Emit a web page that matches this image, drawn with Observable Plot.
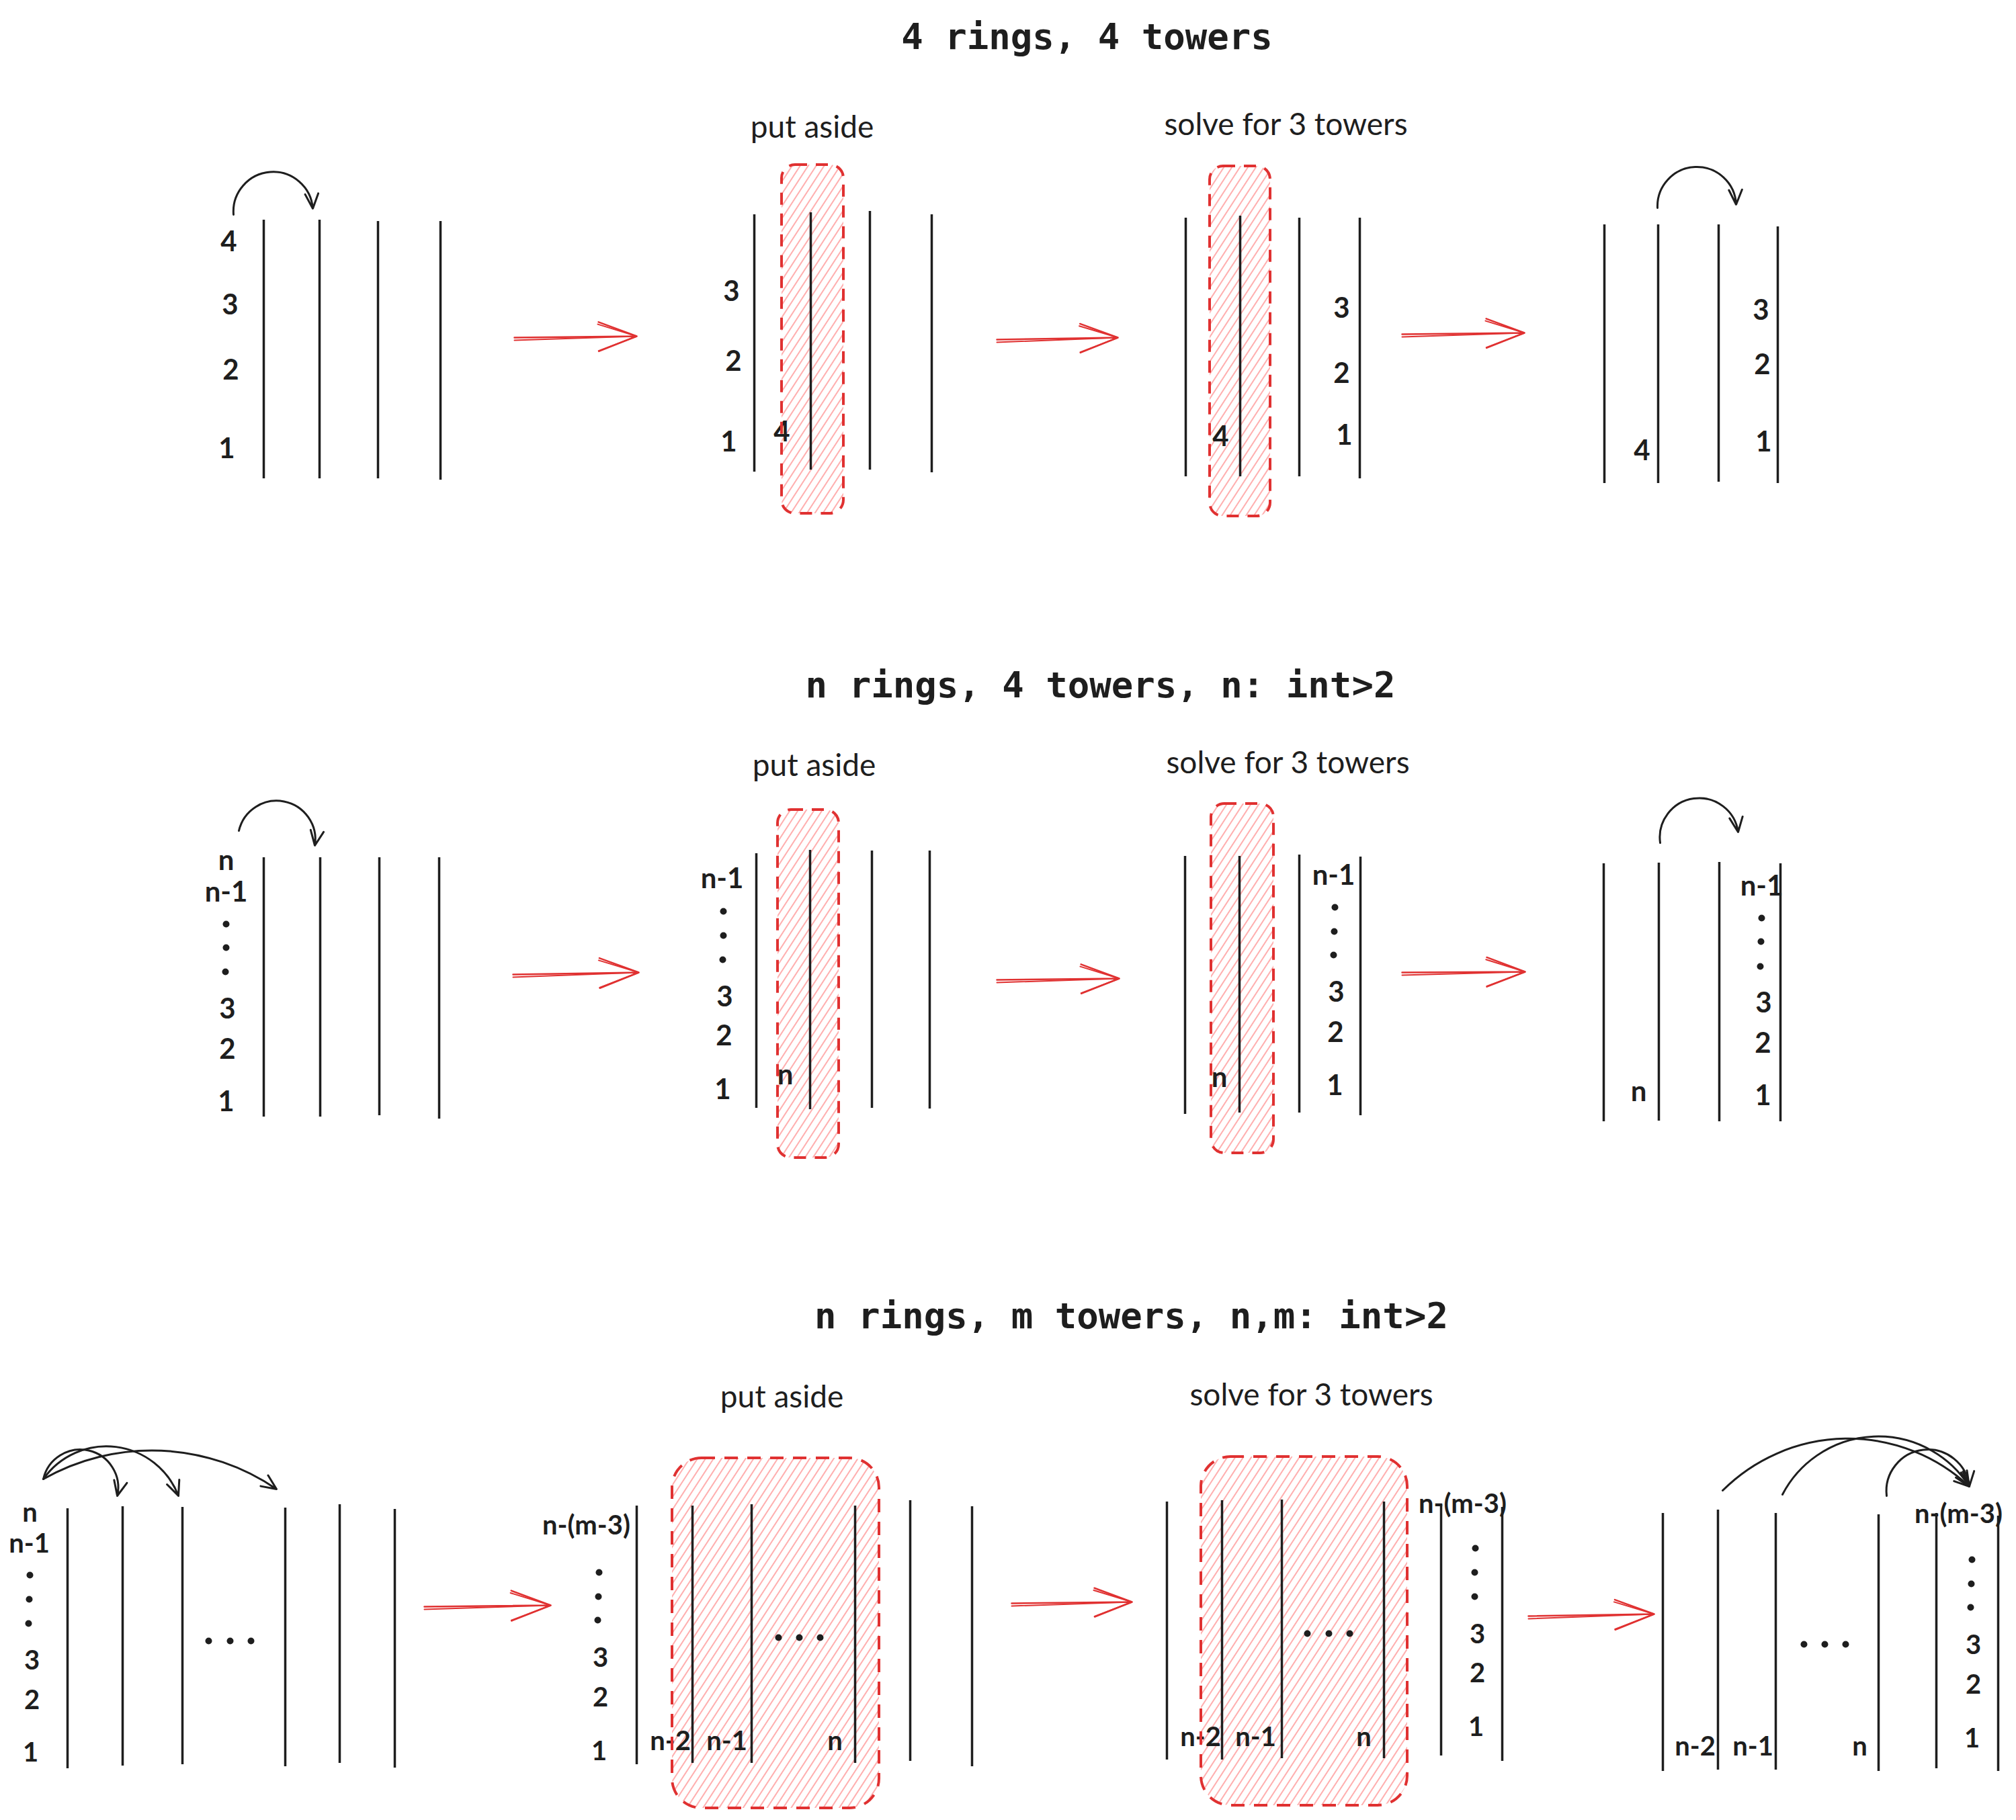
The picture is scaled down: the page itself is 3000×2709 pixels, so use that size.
<!DOCTYPE html>
<html>
<head>
<meta charset="utf-8">
<script src="https://cdn.jsdelivr.net/npm/d3@7"></script>
<script src="https://cdn.jsdelivr.net/npm/@observablehq/plot@0.6"></script>
<style>
  html, body { margin: 0; padding: 0; background: #ffffff; }
  #chart svg { display: block; }
</style>
</head>
<body>
<div id="chart"></div>
<script>
// ---------- data (diagram units) ----------
const titles = [
  {text: "4 rings, 4 towers", x: 1617, y: 55},
  {text: "n rings, 4 towers, n: int>2", x: 1637, y: 1020},
  {text: "n rings, m towers, n,m: int>2", x: 1683, y: 1959}
];

const captions = [
  {text: "put aside", x: 1208, y: 190},
  {text: "solve for 3 towers", x: 1913, y: 186},
  {text: "put aside", x: 1211, y: 1140},
  {text: "solve for 3 towers", x: 1916, y: 1136},
  {text: "put aside", x: 1163, y: 2080},
  {text: "solve for 3 towers", x: 1951, y: 2077}
];

const towers = [
  // row 1
  {x: 392, top: 327, bottom: 712}, {x: 475, top: 327, bottom: 712}, {x: 562, top: 329, bottom: 712}, {x: 655, top: 329, bottom: 714},
  {x: 1122, top: 319, bottom: 702}, {x: 1206, top: 316, bottom: 699}, {x: 1294, top: 314, bottom: 699}, {x: 1386, top: 319, bottom: 703},
  {x: 1764, top: 324, bottom: 709}, {x: 1845, top: 321, bottom: 709}, {x: 1933, top: 324, bottom: 709}, {x: 2023, top: 324, bottom: 712},
  {x: 2387, top: 334, bottom: 719}, {x: 2467, top: 334, bottom: 719}, {x: 2557, top: 334, bottom: 717}, {x: 2645, top: 337, bottom: 719},
  // row 2
  {x: 392, top: 1276, bottom: 1662}, {x: 476, top: 1276, bottom: 1662}, {x: 564, top: 1276, bottom: 1660}, {x: 653, top: 1276, bottom: 1665},
  {x: 1125, top: 1270, bottom: 1649}, {x: 1205, top: 1265, bottom: 1651}, {x: 1297, top: 1266, bottom: 1649}, {x: 1383, top: 1266, bottom: 1650},
  {x: 1763, top: 1274, bottom: 1658}, {x: 1844, top: 1274, bottom: 1656}, {x: 1933, top: 1272, bottom: 1656}, {x: 2024, top: 1275, bottom: 1660},
  {x: 2386, top: 1285, bottom: 1669}, {x: 2468, top: 1284, bottom: 1668}, {x: 2558, top: 1283, bottom: 1669}, {x: 2649, top: 1285, bottom: 1669},
  // row 3
  {x: 100, top: 2245, bottom: 2632}, {x: 182, top: 2242, bottom: 2628}, {x: 271, top: 2243, bottom: 2626},
  {x: 424, top: 2244, bottom: 2629}, {x: 505, top: 2239, bottom: 2624}, {x: 587, top: 2246, bottom: 2631},
  {x: 947, top: 2241, bottom: 2626}, {x: 1030, top: 2241, bottom: 2624}, {x: 1118, top: 2239, bottom: 2624},
  {x: 1272, top: 2241, bottom: 2624}, {x: 1354, top: 2233, bottom: 2621}, {x: 1446, top: 2242, bottom: 2629},
  {x: 1736, top: 2235, bottom: 2619}, {x: 1818, top: 2233, bottom: 2619}, {x: 1907, top: 2232, bottom: 2617},
  {x: 2059, top: 2235, bottom: 2617}, {x: 2144, top: 2239, bottom: 2613}, {x: 2235, top: 2243, bottom: 2621},
  {x: 2474, top: 2252, bottom: 2636}, {x: 2556, top: 2247, bottom: 2634}, {x: 2642, top: 2252, bottom: 2634},
  {x: 2795, top: 2254, bottom: 2636}, {x: 2881, top: 2252, bottom: 2632}, {x: 2973, top: 2256, bottom: 2636}
];

// ring labels, rows 1 and 2
const ringLabels = [
  {text: "4", x: 340, y: 360}, {text: "3", x: 342, y: 454}, {text: "2", x: 343, y: 551}, {text: "1", x: 337, y: 668},
  {text: "3", x: 1088, y: 434}, {text: "2", x: 1091, y: 538}, {text: "1", x: 1084, y: 658}, {text: "4", x: 1163, y: 643},
  {text: "3", x: 1996, y: 459}, {text: "2", x: 1996, y: 556}, {text: "1", x: 2000, y: 648}, {text: "4", x: 1816, y: 650},
  {text: "3", x: 2620, y: 462}, {text: "2", x: 2622, y: 543}, {text: "1", x: 2624, y: 658}, {text: "4", x: 2443, y: 671},
  {text: "n", x: 336, y: 1281}, {text: "n-1", x: 336, y: 1328}, {text: "3", x: 338, y: 1502}, {text: "2", x: 338, y: 1562}, {text: "1", x: 336, y: 1640},
  {text: "n-1", x: 1074, y: 1308}, {text: "3", x: 1078, y: 1484}, {text: "2", x: 1077, y: 1542}, {text: "1", x: 1075, y: 1622}, {text: "n", x: 1168, y: 1600},
  {text: "n-1", x: 1984, y: 1303}, {text: "3", x: 1988, y: 1477}, {text: "2", x: 1987, y: 1537}, {text: "1", x: 1986, y: 1616}, {text: "n", x: 1814, y: 1604},
  {text: "n-1", x: 2621, y: 1319}, {text: "3", x: 2624, y: 1493}, {text: "2", x: 2623, y: 1553}, {text: "1", x: 2623, y: 1631}, {text: "n", x: 2438, y: 1625}
];

// ring labels, row 3
const ringLabelsM = [
  {text: "n", x: 44, y: 2252}, {text: "n-1", x: 43, y: 2298}, {text: "3", x: 47, y: 2472}, {text: "2", x: 47, y: 2531}, {text: "1", x: 45, y: 2609},
  {text: "n-(m-3)", x: 872, y: 2271}, {text: "3", x: 893, y: 2468}, {text: "2", x: 893, y: 2527}, {text: "1", x: 891, y: 2607},
  {text: "n-2", x: 997, y: 2592}, {text: "n-1", x: 1081, y: 2592}, {text: "n", x: 1242, y: 2592},
  {text: "n-(m-3)", x: 2176, y: 2239}, {text: "3", x: 2198, y: 2433}, {text: "2", x: 2198, y: 2491}, {text: "1", x: 2196, y: 2571},
  {text: "n-2", x: 1786, y: 2586}, {text: "n-1", x: 1868, y: 2586}, {text: "n", x: 2029, y: 2586},
  {text: "n-(m-3)", x: 2914, y: 2254}, {text: "3", x: 2936, y: 2449}, {text: "2", x: 2936, y: 2508}, {text: "1", x: 2934, y: 2588},
  {text: "n-2", x: 2522, y: 2600}, {text: "n-1", x: 2608, y: 2600}, {text: "n", x: 2767, y: 2600}
];

const dots = [
  // vertical ellipses in ring stacks
  {x: 336, y: 1375}, {x: 336, y: 1410}, {x: 335, y: 1446},
  {x: 1076, y: 1356}, {x: 1076, y: 1392}, {x: 1075, y: 1428},
  {x: 1986, y: 1350}, {x: 1985, y: 1386}, {x: 1984, y: 1421},
  {x: 2621, y: 1366}, {x: 2620, y: 1401}, {x: 2619, y: 1438},
  {x: 44, y: 2344}, {x: 43, y: 2380}, {x: 42, y: 2416},
  {x: 891, y: 2340}, {x: 890, y: 2376}, {x: 889, y: 2411},
  {x: 2195, y: 2304}, {x: 2194, y: 2340}, {x: 2194, y: 2376},
  {x: 2934, y: 2321}, {x: 2933, y: 2357}, {x: 2932, y: 2392},
  // horizontal ellipses between towers
  {x: 310, y: 2442}, {x: 342, y: 2442}, {x: 373, y: 2442},
  {x: 1158, y: 2437}, {x: 1189, y: 2437}, {x: 1220, y: 2437},
  {x: 1945, y: 2431}, {x: 1977, y: 2431}, {x: 2008, y: 2431},
  {x: 2684, y: 2447}, {x: 2715, y: 2447}, {x: 2746, y: 2447}
];

const narrowBoxes = [
  {x1: 1163, x2: 1255, y1: 245, y2: 764},
  {x1: 1800, x2: 1890, y1: 247, y2: 768},
  {x1: 1157, x2: 1248, y1: 1205, y2: 1723},
  {x1: 1802, x2: 1895, y1: 1196, y2: 1716}
];
const wideBoxes = [
  {x1: 1000, x2: 1308, y1: 2170, y2: 2691},
  {x1: 1787, x2: 2094, y1: 2168, y2: 2687}
];

const stepArrows = [
  {x1: 765, y1: 502, x2: 947, y2: 500},
  {x1: 1483, y1: 505, x2: 1663, y2: 502},
  {x1: 2086, y1: 497, x2: 2268, y2: 495},
  {x1: 763, y1: 1450, x2: 950, y2: 1447},
  {x1: 1483, y1: 1458, x2: 1665, y2: 1456},
  {x1: 2086, y1: 1447, x2: 2269, y2: 1446},
  {x1: 631, y1: 2391, x2: 819, y2: 2389},
  {x1: 1505, y1: 2386, x2: 1684, y2: 2384},
  {x1: 2274, y1: 2405, x2: 2461, y2: 2402}
];

// ring moves (curved arrows); bend = arc angle in degrees
const moves = [
  {x1: 347, y1: 319, x2: 465, y2: 310, bend: 90},
  {x1: 2466, y1: 309, x2: 2583, y2: 304, bend: 90},
  {x1: 355, y1: 1236, x2: 468, y2: 1258, bend: 88},
  {x1: 2470, y1: 1254, x2: 2586, y2: 1238, bend: 90},
  {x1: 64, y1: 2201, x2: 174, y2: 2226, bend: 90},
  {x1: 64, y1: 2201, x2: 265, y2: 2226, bend: 62},
  {x1: 64, y1: 2201, x2: 411, y2: 2216, bend: 32},
  {x1: 2563, y1: 2218, x2: 2930, y2: 2212, bend: 44},
  {x1: 2652, y1: 2224, x2: 2930, y2: 2212, bend: 60},
  {x1: 2807, y1: 2226, x2: 2930, y2: 2212, bend: 90}
];

// ---------- drawing ----------
const ink = "#1e1e1e";
const red = "#e03131";
const handFont = "Lato, 'Open Sans', sans-serif";

const moveMarks = Array.from(new Set(moves.map(d => d.bend))).map(b =>
  Plot.arrow(moves.filter(d => d.bend === b), {
    x1: "x1", y1: "y1", x2: "x2", y2: "y2",
    bend: b, stroke: ink, strokeWidth: 3, headAngle: 48, headLength: 12
  })
);

const plot = Plot.plot({
  width: 3000,
  height: 2709,
  margin: 0,
  x: {domain: [0, 3000], range: [0, 3000], axis: null},
  y: {domain: [0, 2709], range: [0, 2709], axis: null},
  style: {background: "#ffffff", overflow: "visible"},
  marks: [
    Plot.rect(narrowBoxes, {x1: "x1", x2: "x2", y1: "y1", y2: "y2", fill: "url(#hatch)", rx: 20}),
    Plot.rect(wideBoxes, {x1: "x1", x2: "x2", y1: "y1", y2: "y2", fill: "url(#hatch)", rx: 44}),
    Plot.ruleX(towers, {x: "x", y1: "top", y2: "bottom", stroke: ink, strokeWidth: 3.5}),
    Plot.text(ringLabels, {x: "x", y: "y", text: "text", fontSize: 42, fontWeight: "bold", fontFamily: handFont, fill: ink, lineAnchor: "middle"}),
    Plot.text(ringLabelsM, {x: "x", y: "y", text: "text", fontSize: 40, fontWeight: "bold", fontFamily: handFont, fill: ink, lineAnchor: "middle"}),
    Plot.dot(dots, {x: "x", y: "y", r: 5, fill: ink}),
    Plot.rect(narrowBoxes, {x1: "x1", x2: "x2", y1: "y1", y2: "y2", fill: "none", stroke: red, strokeWidth: 4, strokeDasharray: "18 13", rx: 20}),
    Plot.rect(wideBoxes, {x1: "x1", x2: "x2", y1: "y1", y2: "y2", fill: "none", stroke: red, strokeWidth: 4, strokeDasharray: "20 14", rx: 44}),
    Plot.arrow(stepArrows, {x1: "x1", y1: "y1", x2: "x2", y2: "y2", stroke: red, strokeWidth: 2.5, headAngle: 42, headLength: 40}),
    Plot.arrow(stepArrows, {x1: "x1", y1: d => d.y1 + 4, x2: "x2", y2: "y2", stroke: red, strokeWidth: 2, headAngle: 38, headLength: 48}),
    ...moveMarks,
    Plot.text(captions, {x: "x", y: "y", text: "text", fontSize: 46, fontFamily: handFont, fill: ink, lineAnchor: "middle"}),
    Plot.text(titles, {x: "x", y: "y", text: "text", fontSize: 54, fontFamily: "'DejaVu Sans Mono', monospace", fontWeight: "bold", fill: ink, lineAnchor: "middle"})
  ]
});

// hatch pattern (transparent background) for the "put aside" / "solve" boxes
const defs = d3.select(plot).insert("defs", ":first-child");
const pat = defs.append("pattern")
  .attr("id", "hatch")
  .attr("patternUnits", "userSpaceOnUse")
  .attr("width", 10)
  .attr("height", 10)
  .attr("patternTransform", "rotate(33)");
pat.append("line")
  .attr("x1", 3).attr("y1", -1).attr("x2", 3).attr("y2", 11)
  .attr("stroke", "#ff9a9a").attr("stroke-width", 1.6);

document.getElementById("chart").appendChild(plot);
</script>
</body>
</html>
